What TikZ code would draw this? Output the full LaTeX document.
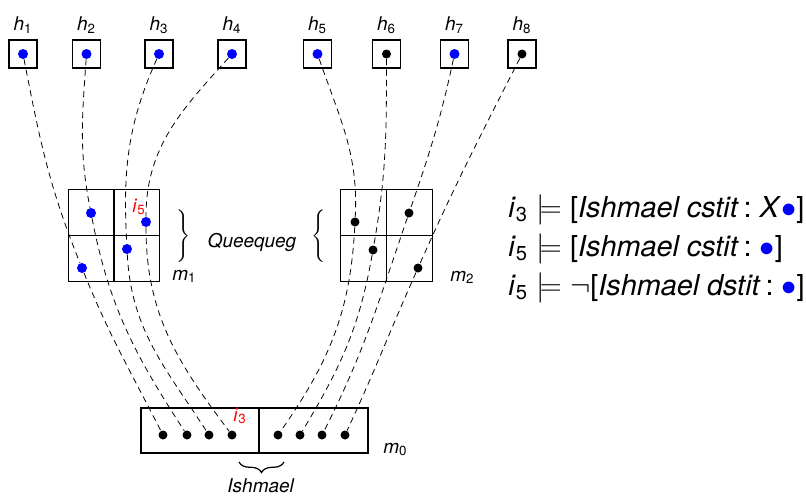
\documentclass[tikz,border=0pt]{standalone}
\usepackage{fontspec}
\setmainfont{TeX Gyre Heros}
\usetikzlibrary{positioning,decorations.pathreplacing}

\newcommand{\ix}[2]{\textit{#1}\textsubscript{#2}}
\newcommand{\brc}[1]{$\left#1\vrule height 13pt depth 13pt width 0pt\right.$}
\newcommand{\brcr}[1]{$\left.\vrule height 13pt depth 13pt width 0pt\right#1$}

\begin{document}
\begin{tikzpicture}[x=0.02cm,y=-0.02cm,font=\fontsize{10.8}{13}\selectfont,
    hbox/.style={draw,line width=0.6pt,minimum size=0.56cm,inner sep=0pt,label distance=3pt},
    cell/.style={draw,line width=0.6pt,minimum size=1.83cm,inner sep=0pt},
    half/.style={draw,line width=0.6pt,minimum height=0.9cm,inner sep=0pt},
    bdot/.style={circle,fill=blue,inner sep=0pt,minimum size=0.2cm},
    kdot/.style={circle,fill=black,inner sep=0pt,minimum size=0.18cm},
    hist/.style={dash pattern=on 3.5pt off 2.5pt,line width=0.45pt},
    lbl/.style={anchor=base west,inner sep=0pt},
    fml/.style={font=\fontsize{16.4}{20}\selectfont,inner sep=0pt,anchor=base west}]

  \useasboundingbox (0,0) rectangle (806,498);

  \node[hbox,label=above:\ix{h}{1}] (h1) at (23,54) {};
  \node[hbox,label=above:\ix{h}{2}] (h2) at (86.5,54) {};
  \node[hbox,label=above:\ix{h}{3}] (h3) at (159,54) {};
  \node[hbox,label=above:\ix{h}{4}] (h4) at (232,54) {};
  \node[hbox,label=above:\ix{h}{5}] (h5) at (317.5,54) {};
  \node[hbox,label=above:\ix{h}{6}] (h6) at (386.5,54) {};
  \node[hbox,label=above:\ix{h}{7}] (h7) at (454.5,54) {};
  \node[hbox,label=above:\ix{h}{8}] (h8) at (522,54) {};

  \node[bdot] (d1) at (h1) {};
  \node[bdot] (d2) at (h2) {};
  \node[bdot] (d3) at (h3) {};
  \node[bdot] (d4) at (h4) {};
  \node[bdot] (d5) at (h5) {};
  \node[kdot] (d6) at (h6) {};
  \node[bdot] (d7) at (h7) {};
  \node[kdot] (d8) at (h8) {};

  \node[cell] (m1) at (114,235.5) {};
  \draw[line width=0.6pt] (m1.north) -- (m1.south) (m1.west) -- (m1.east);
  \node[cell] (m2) at (386.5,235.5) {};
  \draw[line width=0.6pt] (m2.north) -- (m2.south) (m2.west) -- (m2.east);

  \node[bdot] (a1) at (82,268) {};
  \node[bdot] (a2) at (91,213) {};
  \node[bdot] (a3) at (127,249) {};
  \node[bdot] (a4) at (146,222) {};
  \node[kdot] (b5) at (355,222) {};
  \node[kdot] (b6) at (373,250) {};
  \node[kdot] (b7) at (409,213) {};
  \node[kdot] (b8) at (418,268) {};

  \node[half,minimum width=2.36cm] (m0l) at (200,430.5) {};
  \node[half,minimum width=2.18cm] (m0r) at (313.5,430.5) {};

  \node[kdot] (z1) at (163,435) {};
  \node[kdot] (z2) at (187,435) {};
  \node[kdot] (z3) at (209,435) {};
  \node[kdot] (z4) at (232,435) {};
  \node[kdot] (z5) at (278,435) {};
  \node[kdot] (z6) at (300,435) {};
  \node[kdot] (z7) at (322,435) {};
  \node[kdot] (z8) at (345,435) {};

  \path[hist]
    (d1) edge[out=-79,in=112] (a1)
    (a1) edge[out=-68,in=117] (z1)
    (d2) edge[out=-94,in=101] (a2)
    (a2) edge[out=-79,in=123] (z2)
    (d3) edge[out=-114,in=93] (a3)
    (a3) edge[out=-87,in=123] (z3)
    (d4) edge[out=-132,in=90] (a4)
    (a4) edge[out=-90,in=127] (z4)
    (d5) edge[out=-71,in=87] (b5)
    (b5) edge[out=-93,in=55] (z5)
    (d6) edge[out=-90,in=80] (b6)
    (b6) edge[out=-100,in=59] (z6)
    (d7) edge[out=-102,in=71] (b7)
    (b7) edge[out=-109,in=63] (z7)
    (d8) edge[out=-117,in=66] (b8)
    (b8) edge[out=-114,in=65] (z8);

  \node[lbl,text=red] (i5) at (132,212) {\ix{i}{5}};
  \node[lbl,text=red] (i3) at (233,421) {\ix{i}{3}};
  \node[lbl] (lm1) at (172,280) {\ix{m}{1}};
  \node[lbl] (lm2) at (450,281) {\ix{m}{2}};
  \node[lbl] (lm0) at (383,453) {\ix{m}{0}};

  \node[anchor=base] (qq) at (252,247) {\textit{Queequeg}};
  \node (brl) at (183,237) {\brcr\}};
  \node (brr) at (320,237) {\brc\{};

  \coordinate (ul) at (239,462);
  \coordinate (ur) at (284,462);
  \draw[line width=0.7pt,decorate,decoration={brace,mirror,amplitude=6pt}] (ul) -- (ur);
  \node[anchor=base] (ish) at (261,492) {\textit{Ishmael}};

  \node[fml] (f1) at (508,217) {\ix{i}{3}${}\models{}$[\textit{Ishmael cstit}\,:\;\textit{X}\textcolor{blue}{$\bullet$}]};
  \node[fml] (f2) at (508,256) {\ix{i}{5}${}\models{}$[\textit{Ishmael cstit}\,:\;\textcolor{blue}{$\bullet$}]};
  \node[fml] (f3) at (508,295) {\ix{i}{5}${}\models{}\neg$[\textit{Ishmael dstit}\,:\;\textcolor{blue}{$\bullet$}]};
\end{tikzpicture}
\end{document}
